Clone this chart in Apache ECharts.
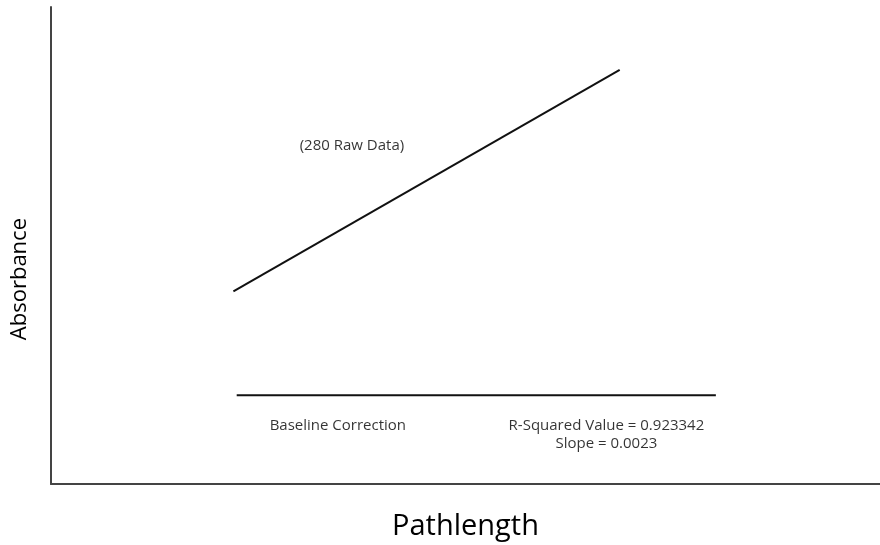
<!DOCTYPE html>
<html>
<head>
<meta charset="utf-8">
<script src="https://cdn.jsdelivr.net/npm/echarts@6/dist/echarts.min.js"></script>
<style>
  html, body { margin: 0; padding: 0; background: #fff; }
  #chart { width: 880px; height: 545px; }
</style>
</head>
<body>
<div id="chart"></div>
<script>
// Raw absorbance trend (280 nm) versus pathlength, arbitrary units
const rawData = [[22.0, 40.4], [68.6, 86.8]];
// Baseline correction level
const baselineData = [[22.4, 18.6], [80.2, 18.6]];
// Annotation anchors with their text
const notes = [
  { pos: [36.3, 70.9], text: '(280 Raw Data)' },
  { pos: [34.6, 12.3], text: 'Baseline Correction' },
  { pos: [67.0, 10.3], text: 'R-Squared Value = 0.923342\nSlope = 0.0023' }
];

const FONT = '"Open Sans", "Noto Sans", sans-serif';
const chart = echarts.init(document.getElementById('chart'));

chart.setOption({
  animation: false,
  backgroundColor: '#ffffff',
  grid: { left: 51, right: 0, top: 7, bottom: 61, containLabel: false, outerBoundsMode: 'none' },
  xAxis: {
    type: 'value', min: 0, max: 100,
    name: 'Pathlength', nameLocation: 'middle', nameGap: 28,
    nameTextStyle: { fontFamily: FONT, fontSize: 29, color: '#000' },
    axisLine: { show: true, lineStyle: { color: '#444', width: 2 } },
    axisTick: { show: false }, axisLabel: { show: false }, splitLine: { show: false }
  },
  yAxis: {
    type: 'value', min: 0, max: 100,
    axisLine: { show: true, lineStyle: { color: '#444', width: 2 } },
    axisTick: { show: false }, axisLabel: { show: false }, splitLine: { show: false }
  },
  graphic: [{
    type: 'text', left: 9, top: 218, rotation: Math.PI / 2,
    style: { text: 'Absorbance', font: '22px ' + FONT, fill: '#000' }
  }],
  series: [
    {
      type: 'line', data: rawData, symbol: 'none', silent: true,
      lineStyle: { color: '#111', width: 2 }
    },
    {
      type: 'line', data: baselineData, symbol: 'none', silent: true,
      lineStyle: { color: '#111', width: 2 }
    },
    {
      type: 'scatter', symbolSize: 0, silent: true,
      data: notes.map(n => ({ value: n.pos, name: n.text })),
      label: {
        show: true, position: 'inside', formatter: p => p.name,
        fontFamily: FONT, fontSize: 15, color: '#000', align: 'center',
        lineHeight: 18
      }
    }
  ]
});
</script>
</body>
</html>
